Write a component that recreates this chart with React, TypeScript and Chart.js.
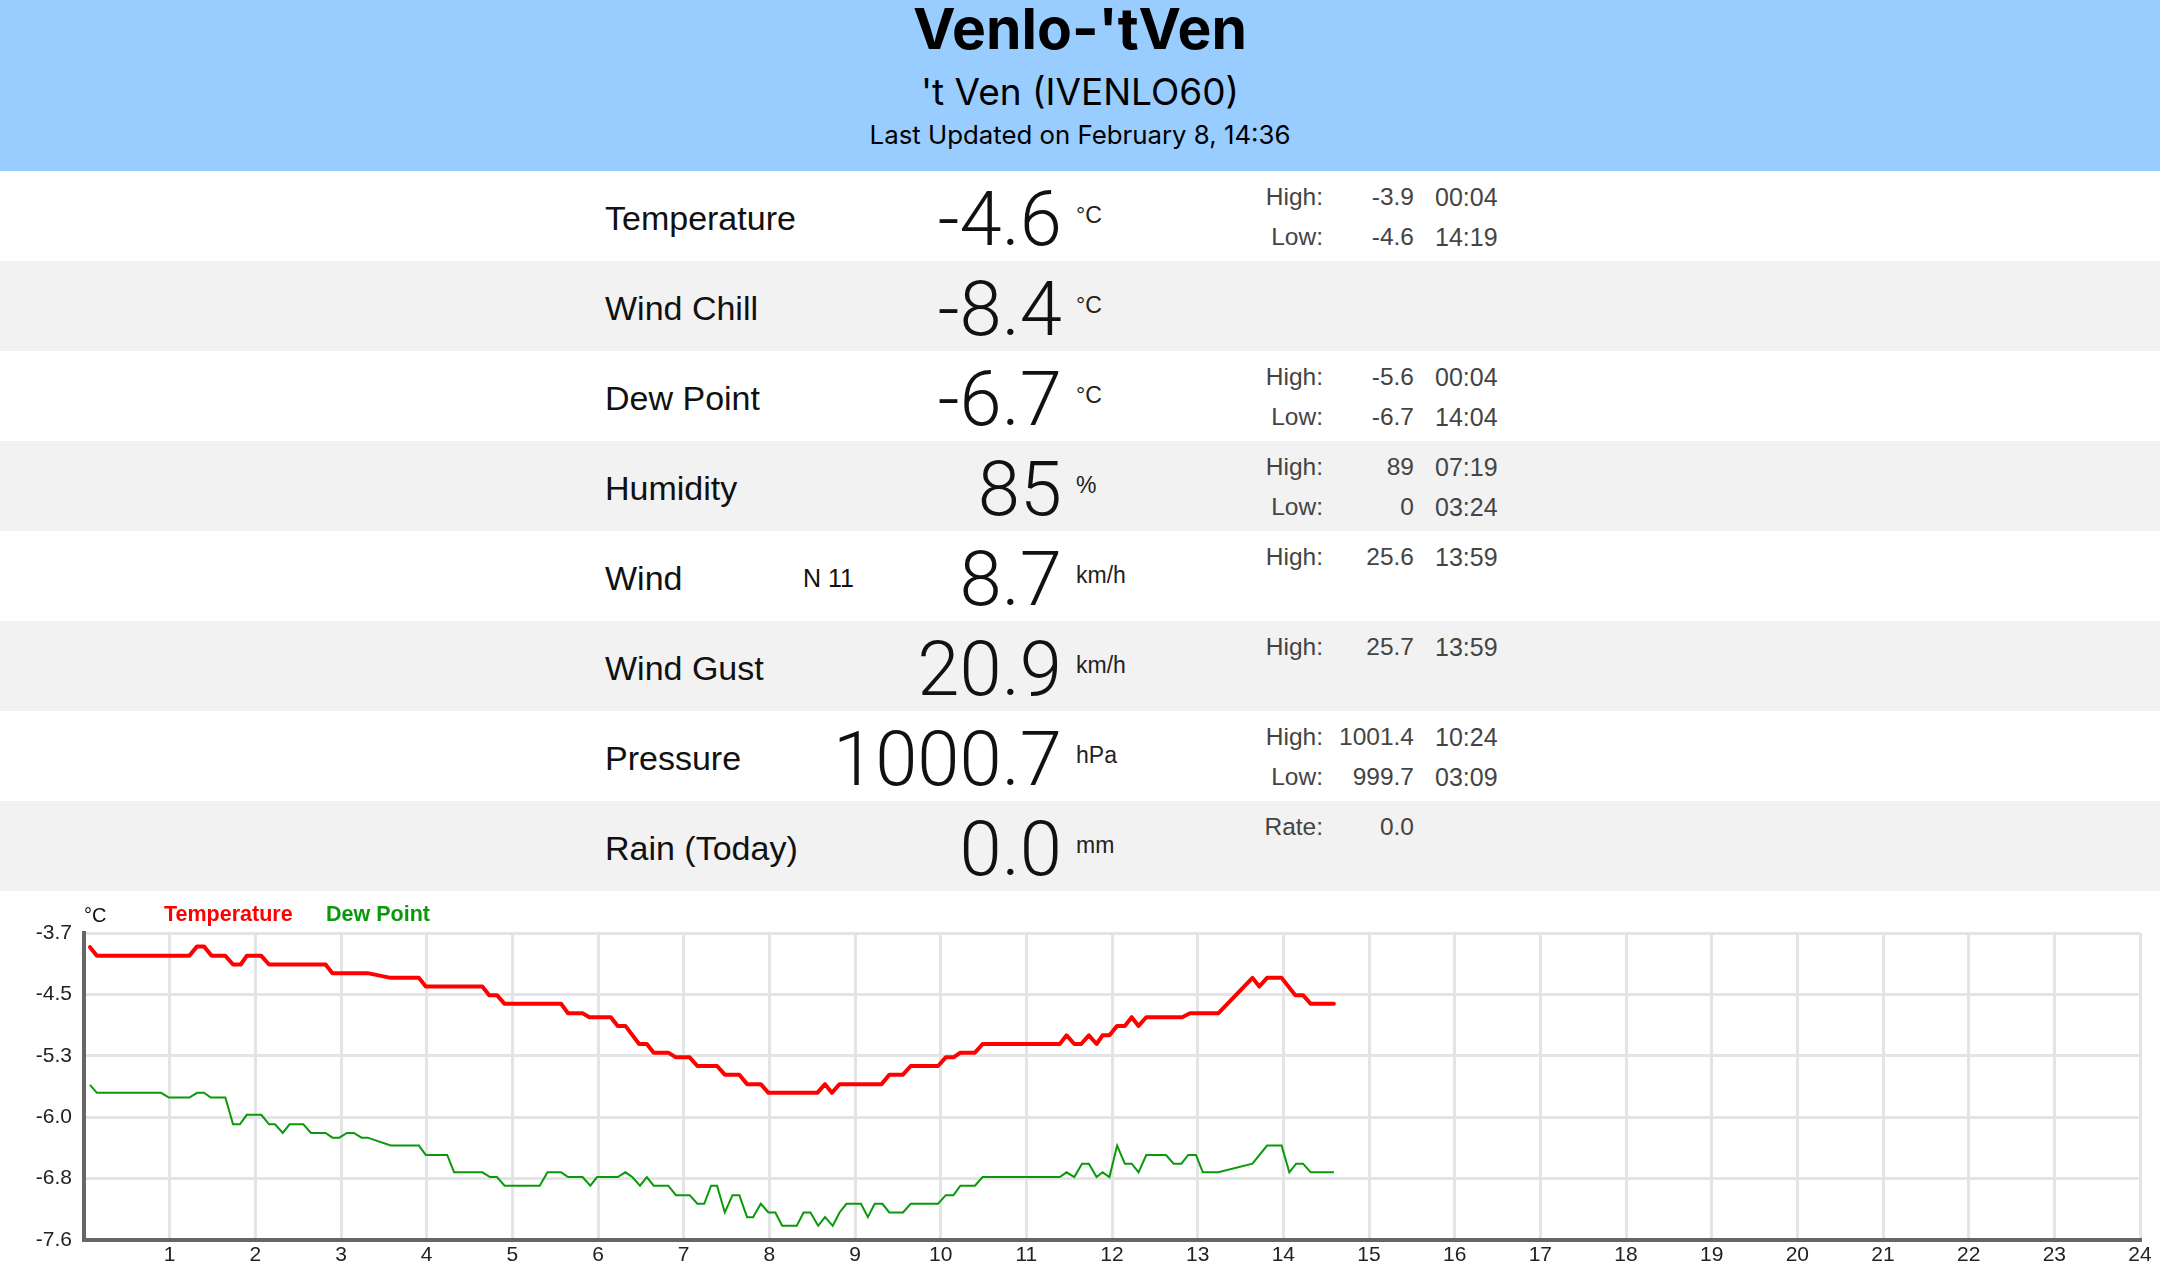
import React, { useEffect, useRef } from 'react';
import { Chart, registerables } from 'chart.js';

Chart.register(...registerables);

// ---------- header text ----------
const stationTitle = "Venlo-'tVen";
const stationSubtitle = "'t Ven (IVENLO60)";
const lastUpdated = 'Last Updated on February 8, 14:36';

// ---------- current conditions table ----------
const rowLabels = ['Temperature', 'Wind Chill', 'Dew Point', 'Humidity', 'Wind', 'Wind Gust', 'Pressure', 'Rain (Today)'];
const rowValues = ['-4.6', '-8.4', '-6.7', '85', '8.7', '20.9', '1000.7', '0.0'];
const rowUnits = ['°C', '°C', '°C', '%', 'km/h', 'km/h', 'hPa', 'mm'];
const rowExtras = ['', '', '', '', 'N 11', '', '', ''];
const statLabels = [['High:', 'Low:'], [], ['High:', 'Low:'], ['High:', 'Low:'], ['High:'], ['High:'], ['High:', 'Low:'], ['Rate:']];
const statValues = [['-3.9', '-4.6'], [], ['-5.6', '-6.7'], ['89', '0'], ['25.6'], ['25.7'], ['1001.4', '999.7'], ['0.0']];
const statTimes = [['00:04', '14:19'], [], ['00:04', '14:04'], ['07:19', '03:24'], ['13:59'], ['13:59'], ['10:24', '03:09'], ['']];

// ---------- chart data (hours of day, °C) ----------
const legendUnit = '°C';
const tempLabel = 'Temperature';
const dewLabel = 'Dew Point';

const tempHours = [
  0.07, 0.15, 1.23, 1.32, 1.40, 1.49, 1.65, 1.74, 1.83, 1.90, 2.07, 2.16, 2.82, 2.90, 3.31, 3.58, 3.91, 3.99,
  4.65, 4.73, 4.82, 4.91, 5.57, 5.65, 5.82, 5.90, 6.15, 6.23, 6.32, 6.48, 6.57, 6.65, 6.82, 6.91, 7.07, 7.16,
  7.39, 7.48, 7.65, 7.74, 7.90, 7.99, 8.56, 8.65, 8.73, 8.82, 9.31, 9.40, 9.56, 9.65, 9.97, 10.06, 10.15, 10.23,
  10.40, 10.49, 11.39, 11.47, 11.56, 11.64, 11.73, 11.82, 11.89, 11.97, 12.06, 12.15, 12.23, 12.31, 12.40, 12.82,
  12.91, 13.24, 13.64, 13.72, 13.81, 13.98, 14.14, 14.23, 14.32, 14.59,
];
const tempValues = [
  -3.88, -3.99, -3.99, -3.87, -3.87, -3.99, -3.99, -4.10, -4.10, -3.99, -3.99, -4.10, -4.10, -4.21, -4.21, -4.27, -4.27, -4.38,
  -4.38, -4.49, -4.49, -4.60, -4.60, -4.72, -4.72, -4.77, -4.77, -4.88, -4.88, -5.11, -5.11, -5.22, -5.22, -5.28, -5.28, -5.39,
  -5.39, -5.50, -5.50, -5.62, -5.62, -5.73, -5.73, -5.62, -5.73, -5.62, -5.62, -5.50, -5.50, -5.39, -5.39, -5.28, -5.28, -5.22,
  -5.22, -5.11, -5.11, -5.00, -5.11, -5.11, -5.00, -5.11, -5.00, -5.00, -4.88, -4.88, -4.77, -4.88, -4.77, -4.77,
  -4.72, -4.72, -4.27, -4.38, -4.27, -4.27, -4.49, -4.49, -4.60, -4.60,
];

const dewHours = [
  0.07, 0.15, 0.90, 0.99, 1.23, 1.32, 1.40, 1.48, 1.65, 1.74, 1.82, 1.90, 2.07, 2.16, 2.23, 2.32, 2.40, 2.56,
  2.65, 2.82, 2.90, 2.98, 3.07, 3.15, 3.24, 3.31, 3.58, 3.91, 3.99, 4.24, 4.32, 4.65, 4.74, 4.82, 4.91, 5.32,
  5.41, 5.57, 5.65, 5.82, 5.91, 5.99, 6.23, 6.32, 6.40, 6.49, 6.57, 6.65, 6.82, 6.91, 7.07, 7.16, 7.24, 7.32,
  7.39, 7.48, 7.57, 7.65, 7.74, 7.81, 7.90, 7.99, 8.07, 8.15, 8.32, 8.40, 8.48, 8.57, 8.65, 8.74, 8.82, 8.90,
  9.07, 9.15, 9.23, 9.32, 9.40, 9.56, 9.65, 9.97, 10.06, 10.15, 10.23, 10.40, 10.49, 11.39, 11.47, 11.56,
  11.65, 11.73, 11.82, 11.89, 11.97, 12.06, 12.15, 12.23, 12.31, 12.40, 12.63, 12.72, 12.81, 12.89, 12.98,
  13.06, 13.24, 13.64, 13.81, 13.98, 14.07, 14.15, 14.23, 14.32, 14.59,
];
const dewValues = [
  -5.63, -5.73, -5.73, -5.79, -5.79, -5.73, -5.73, -5.79, -5.79, -6.13, -6.13, -6.01, -6.01, -6.13, -6.13, -6.24, -6.13, -6.13,
  -6.24, -6.24, -6.30, -6.30, -6.24, -6.24, -6.30, -6.30, -6.40, -6.40, -6.52, -6.52, -6.74, -6.74, -6.80, -6.80, -6.91, -6.91,
  -6.74, -6.74, -6.80, -6.80, -6.91, -6.80, -6.80, -6.74, -6.80, -6.91, -6.80, -6.91, -6.91, -7.03, -7.03, -7.14, -7.14, -6.91,
  -6.91, -7.25, -7.03, -7.03, -7.31, -7.31, -7.14, -7.25, -7.25, -7.42, -7.42, -7.25, -7.25, -7.42, -7.31, -7.42, -7.25, -7.14,
  -7.14, -7.31, -7.14, -7.14, -7.25, -7.25, -7.14, -7.14, -7.03, -7.03, -6.91, -6.91, -6.80, -6.80, -6.74, -6.80,
  -6.63, -6.63, -6.80, -6.74, -6.80, -6.40, -6.63, -6.63, -6.74, -6.52, -6.52, -6.63, -6.63, -6.52, -6.52,
  -6.74, -6.74, -6.63, -6.40, -6.40, -6.74, -6.63, -6.63, -6.74, -6.74,
];

const xTickValues = [0, 1, 2, 3, 4, 5, 6, 7, 8, 9, 10, 11, 12, 13, 14, 15, 16, 17, 18, 19, 20, 21, 22, 23, 24];
const yTickValues = [-7.6, -6.82, -6.04, -5.26, -4.48, -3.7];

// ---------- layout helpers ----------
const W = 2160;
const H = 1279;
const HEADER_H = 171;
const ROW_TOP = 171;
const ROW_H = 90;
const CHART_TOP = 891;

const SANS = '"Liberation Sans", Arial, Helvetica, sans-serif';
const HEADER_FONT = 'Inter, "Noto Sans", "Liberation Sans", sans-serif';
const LIGHT = 'Roboto, "Liberation Sans", Arial, sans-serif';

type TextProps = {
  text: string;
  cy: number;
  size: number;
  left?: number;
  right?: number;
  center?: boolean;
  weight?: number | string;
  color?: string;
  family?: string;
  spacing?: number;
};

function T({ text, cy, size, left, right, center, weight = 400, color = '#000', family = SANS, spacing = 0 }: TextProps) {
  const style: React.CSSProperties = {
    position: 'absolute',
    top: cy - size / 2,
    height: size,
    lineHeight: `${size}px`,
    fontSize: size,
    fontFamily: family,
    fontWeight: weight as any,
    color,
    whiteSpace: 'nowrap',
    letterSpacing: spacing,
  };
  if (center) {
    style.left = 0;
    style.width = W;
    style.textAlign = 'center';
  } else if (right !== undefined) {
    style.right = W - right;
    style.textAlign = 'right';
  } else {
    style.left = left;
  }
  return <div style={style}>{text}</div>;
}

function WeatherChart() {
  const canvasRef = useRef<HTMLCanvasElement | null>(null);

  useEffect(() => {
    const canvas = canvasRef.current;
    if (!canvas) return;
    const chart = new Chart(canvas, {
      type: 'line',
      data: {
        datasets: [
          {
            label: tempLabel,
            data: tempHours.map((h, i) => ({ x: h, y: tempValues[i] })),
            borderColor: '#ff0000',
            backgroundColor: '#ff0000',
            borderWidth: 4,
            pointRadius: 0,
            tension: 0,
            borderJoinStyle: 'round',
            borderCapStyle: 'round',
            fill: false,
          },
          {
            label: dewLabel,
            data: dewHours.map((h, i) => ({ x: h, y: dewValues[i] })),
            borderColor: '#0a990a',
            backgroundColor: '#0a990a',
            borderWidth: 2,
            pointRadius: 0,
            tension: 0,
            fill: false,
          },
        ],
      },
      options: {
        animation: false,
        responsive: false,
        maintainAspectRatio: false,
        layout: { padding: { top: 42, right: 20, bottom: 0, left: 0 } },
        plugins: { legend: { display: false }, tooltip: { enabled: false } },
        scales: {
          x: {
            type: 'linear',
            min: 0,
            max: 24,
            afterBuildTicks: (scale: any) => {
              scale.ticks = xTickValues.map((v) => ({ value: v }));
            },
            afterFit: (scale: any) => {
              scale.height = 39;
            },
            grid: { color: '#e4e4e4', lineWidth: 3, drawTicks: false },
            border: { color: '#666666', width: 4 },
            ticks: {
              padding: 3,
              color: '#222',
              autoSkip: false,
              maxRotation: 0,
              font: { family: SANS, size: 21 },
              callback: (v: any) => (Number(v) === 0 ? '' : String(v)),
            },
          },
          y: {
            type: 'linear',
            min: -7.6,
            max: -3.7,
            afterBuildTicks: (scale: any) => {
              scale.ticks = yTickValues.map((v) => ({ value: v }));
            },
            afterFit: (scale: any) => {
              scale.width = 84;
            },
            grid: { color: '#e4e4e4', lineWidth: 3, drawTicks: false },
            border: { color: '#666666', width: 4 },
            ticks: {
              padding: 12,
              color: '#222',
              font: { family: SANS, size: 21 },
              callback: (v: any) => Number(v).toFixed(1),
            },
          },
        },
      },
    } as any);
    return () => chart.destroy();
  }, []);

  return (
    <div style={{ position: 'absolute', left: 0, top: CHART_TOP, width: W, height: H - CHART_TOP, background: '#fff' }}>
      <canvas ref={canvasRef} width={W} height={H - CHART_TOP} style={{ display: 'block', width: W, height: H - CHART_TOP }} />
      <T text={legendUnit} left={84} cy={24} size={20} color="#111" />
      <T text={tempLabel} left={164} cy={23.5} size={21.5} weight={700} color="#ff0000" />
      <T text={dewLabel} left={326} cy={23.5} size={21.5} weight={700} color="#0a990a" />
    </div>
  );
}

export default function App() {
  return (
    <div style={{ position: 'relative', width: W, height: H, background: '#fff', overflow: 'hidden' }}>
      <style>{'html,body{margin:0;padding:0;background:#fff;}'}</style>
      <div style={{ position: 'absolute', left: 0, top: 0, width: W, height: HEADER_H, background: '#99ccff' }}>
        <T text={stationTitle} center cy={28} size={57} weight={700} family={HEADER_FONT} />
        <T text={stationSubtitle} center cy={91} size={37} family={HEADER_FONT} />
        <T text={lastUpdated} center cy={134.5} size={25.8} family={HEADER_FONT} />
      </div>
      {rowLabels.map((label, i) => {
        const top = ROW_TOP + ROW_H * i;
        return (
          <div key={label}>
            <div style={{ position: 'absolute', left: 0, top, width: W, height: ROW_H, background: i % 2 === 0 ? '#ffffff' : '#f2f2f2' }} />
            <T text={label} left={605} cy={top + 46.5} size={34} color="#111" />
            {rowExtras[i] ? <T text={rowExtras[i]} left={803} cy={top + 47} size={25} color="#111" /> : null}
            <T text={rowValues[i]} right={1062} cy={top + 47.5} size={76} weight={300} family={LIGHT} color="#111" />
            <T text={rowUnits[i]} left={1076} cy={top + 44.5} size={23} color="#222" />
            {statLabels[i].map((sl, j) => (
              <React.Fragment key={sl + j}>
                <T text={sl} right={1323} cy={top + 26.5 + 40 * j} size={24.5} color="#444" />
                <T text={statValues[i][j]} right={1414} cy={top + 26.5 + 40 * j} size={24.5} color="#444" />
                {statTimes[i][j] ? <T text={statTimes[i][j]} left={1435} cy={top + 26.5 + 40 * j} size={25} color="#444" /> : null}
              </React.Fragment>
            ))}
          </div>
        );
      })}
      <WeatherChart />
    </div>
  );
}
